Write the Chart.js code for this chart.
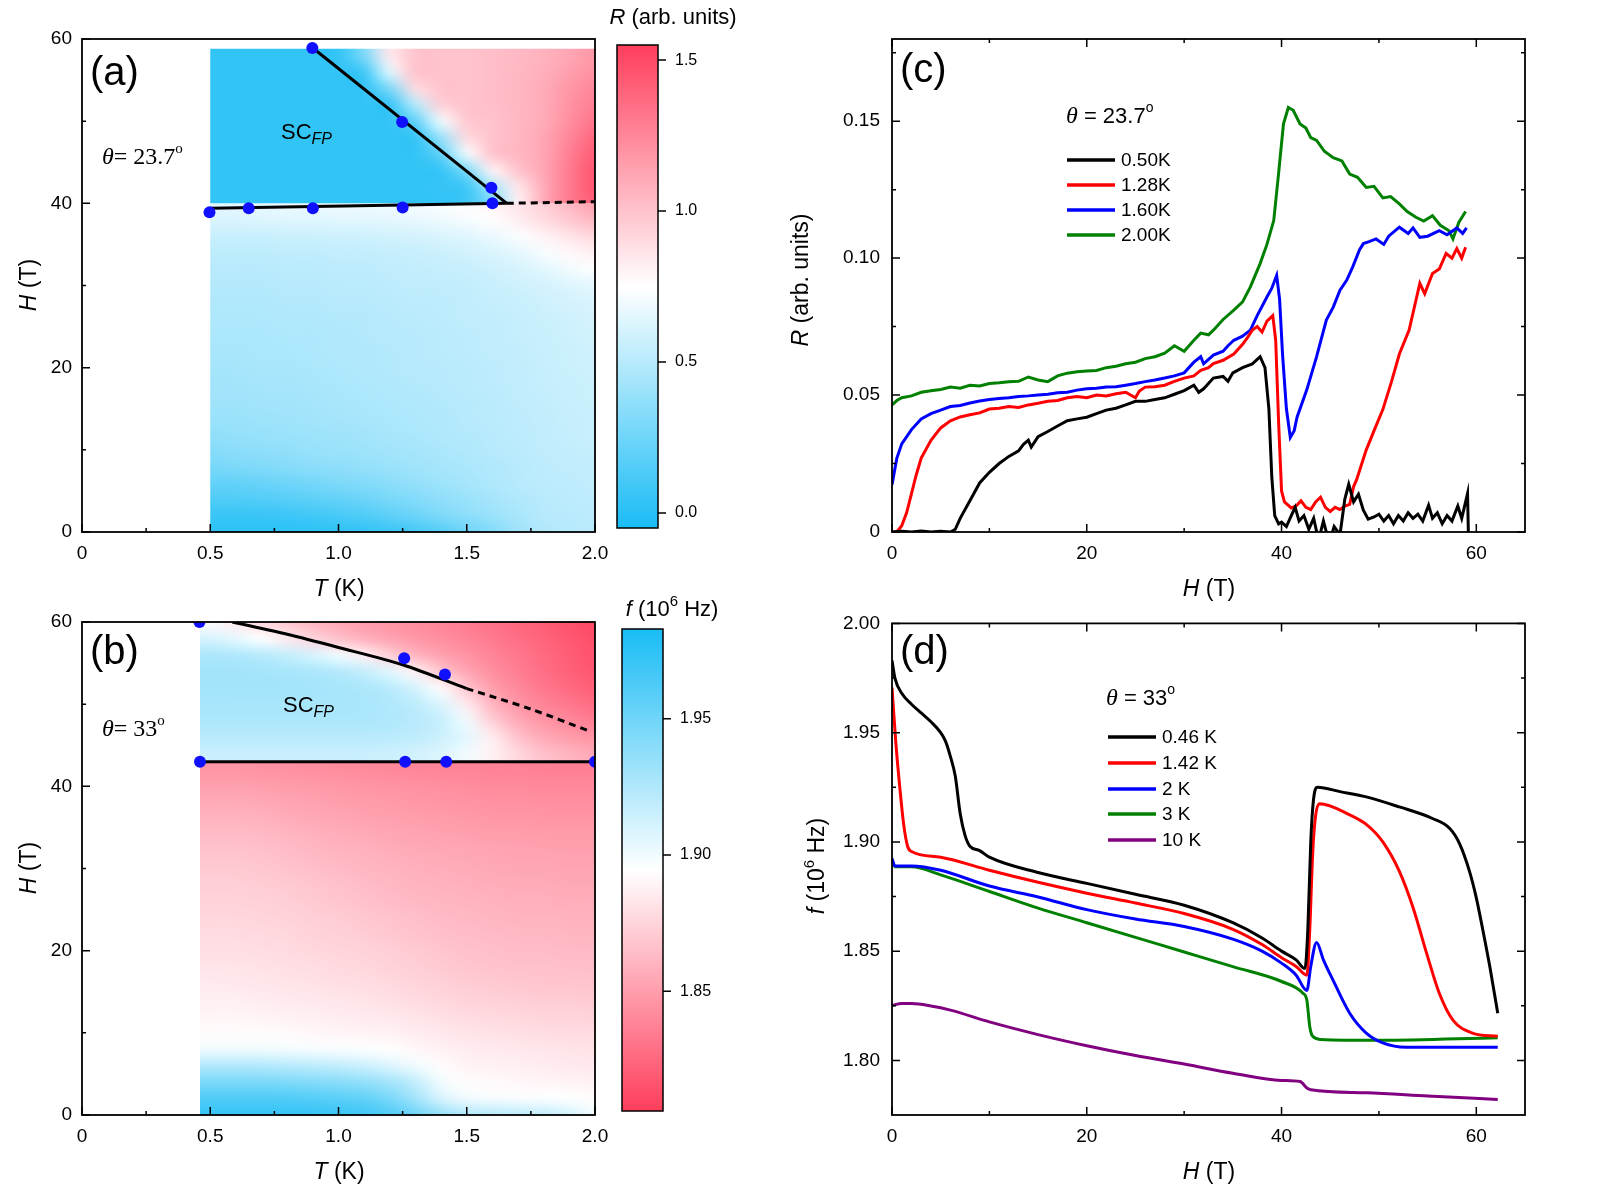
<!DOCTYPE html>
<html>
<head>
<meta charset="utf-8">
<script src="https://cdn.jsdelivr.net/npm/chart.js@4.4.0/dist/chart.umd.min.js"></script>
<style>
body { margin: 0; background: #fff; }
#wrap { position: relative; width: 1600px; height: 1200px; overflow: hidden; }
canvas { position: absolute; }
</style>
</head>
<body>
<div id="wrap">
  <canvas id="chartA" style="left:0;top:0" width="780" height="615"></canvas>
  <canvas id="chartB" style="left:0;top:600px" width="780" height="600"></canvas>
  <canvas id="chartC" style="left:780px;top:0" width="820" height="615"></canvas>
  <canvas id="chartD" style="left:780px;top:600px" width="820" height="600"></canvas>
  <canvas id="barA" style="left:590px;top:0" width="170" height="600"></canvas>
  <canvas id="barB" style="left:590px;top:580px" width="170" height="620"></canvas>
</div>
<script>
const SANS = '"Liberation Sans", Arial, Helvetica, sans-serif';
const SERIF = '"Liberation Serif", "Times New Roman", serif';

// ---------- panel (a): R(T, H) map, theta = 23.7 deg ----------
const tGrid = [0.5, 0.6, 0.7, 0.8, 0.9, 1.0, 1.1, 1.2, 1.3, 1.4, 1.5, 1.6, 1.7, 1.8, 1.9, 2.0];
const hLowA = [0, 2, 4, 6, 8, 10, 12, 14, 16, 18, 20, 22, 24, 26, 28, 30, 32, 34, 36, 38, 40];
const rLowA = [
  [0.02,0.02,0.02,0.02,0.02,0.03,0.04,0.06,0.10,0.16,0.24,0.32,0.42,0.48,0.50,0.50],
  [0.06,0.06,0.06,0.07,0.09,0.11,0.14,0.19,0.24,0.30,0.35,0.40,0.45,0.50,0.50,0.52],
  [0.14,0.14,0.15,0.17,0.19,0.21,0.24,0.28,0.32,0.36,0.40,0.44,0.48,0.50,0.52,0.52],
  [0.21,0.21,0.23,0.25,0.27,0.30,0.32,0.35,0.38,0.41,0.44,0.47,0.50,0.52,0.52,0.53],
  [0.28,0.30,0.31,0.33,0.35,0.36,0.38,0.40,0.42,0.44,0.46,0.48,0.50,0.52,0.53,0.54],
  [0.33,0.35,0.36,0.37,0.39,0.40,0.41,0.43,0.44,0.46,0.48,0.50,0.51,0.53,0.54,0.55],
  [0.37,0.38,0.39,0.40,0.41,0.42,0.43,0.45,0.46,0.48,0.49,0.50,0.52,0.53,0.55,0.56],
  [0.40,0.40,0.41,0.42,0.43,0.44,0.45,0.46,0.47,0.48,0.50,0.51,0.52,0.54,0.55,0.56],
  [0.42,0.42,0.43,0.43,0.44,0.45,0.46,0.47,0.48,0.49,0.50,0.51,0.53,0.54,0.56,0.57],
  [0.43,0.43,0.44,0.44,0.45,0.46,0.47,0.48,0.49,0.50,0.51,0.52,0.53,0.55,0.56,0.57],
  [0.44,0.44,0.45,0.45,0.46,0.47,0.48,0.49,0.50,0.50,0.51,0.52,0.54,0.55,0.57,0.58],
  [0.45,0.45,0.46,0.46,0.47,0.48,0.48,0.49,0.50,0.51,0.52,0.53,0.54,0.56,0.57,0.58],
  [0.46,0.46,0.46,0.47,0.47,0.48,0.49,0.50,0.50,0.51,0.52,0.53,0.55,0.56,0.58,0.59],
  [0.47,0.47,0.47,0.48,0.48,0.49,0.49,0.50,0.51,0.52,0.53,0.54,0.55,0.57,0.58,0.60],
  [0.48,0.48,0.48,0.49,0.49,0.50,0.50,0.51,0.52,0.52,0.53,0.55,0.56,0.58,0.60,0.62],
  [0.49,0.49,0.49,0.50,0.50,0.51,0.51,0.52,0.53,0.53,0.54,0.56,0.58,0.60,0.63,0.66],
  [0.50,0.50,0.50,0.51,0.51,0.52,0.52,0.53,0.54,0.55,0.56,0.58,0.61,0.65,0.70,0.74],
  [0.52,0.52,0.52,0.53,0.53,0.54,0.54,0.55,0.56,0.57,0.59,0.62,0.66,0.72,0.78,0.82],
  [0.56,0.56,0.56,0.57,0.57,0.58,0.58,0.59,0.60,0.62,0.64,0.68,0.73,0.80,0.86,0.92],
  [0.62,0.62,0.63,0.64,0.64,0.65,0.65,0.66,0.67,0.69,0.72,0.76,0.82,0.90,0.98,1.05],
  [0.66,0.66,0.67,0.68,0.68,0.69,0.69,0.70,0.71,0.73,0.76,0.80,0.86,0.95,1.05,1.15]
];
const hHighA = [40, 42, 44, 46, 48, 50, 52, 54, 56, 58];
const rHighA = [
  [0.04,0.04,0.04,0.04,0.04,0.04,0.04,0.04,0.04,0.04,0.08,0.30,0.80,1.10,1.30,1.42],
  [0.04,0.04,0.04,0.04,0.04,0.04,0.04,0.04,0.04,0.05,0.08,0.45,0.85,1.10,1.30,1.45],
  [0.04,0.04,0.04,0.04,0.04,0.04,0.04,0.04,0.04,0.05,0.30,0.80,1.00,1.12,1.30,1.45],
  [0.04,0.04,0.04,0.04,0.04,0.04,0.04,0.04,0.04,0.20,0.70,1.00,1.05,1.12,1.28,1.42],
  [0.04,0.04,0.04,0.04,0.04,0.04,0.04,0.04,0.05,0.40,0.90,1.00,1.05,1.12,1.25,1.38],
  [0.04,0.04,0.04,0.04,0.04,0.04,0.04,0.04,0.20,0.70,0.98,1.00,1.05,1.10,1.22,1.32],
  [0.04,0.04,0.04,0.04,0.04,0.04,0.04,0.05,0.50,0.95,1.00,1.02,1.05,1.10,1.20,1.28],
  [0.04,0.04,0.04,0.04,0.04,0.04,0.04,0.30,0.90,1.00,1.00,1.02,1.05,1.10,1.18,1.25],
  [0.04,0.04,0.04,0.04,0.04,0.04,0.08,0.65,1.00,1.00,1.00,1.02,1.05,1.08,1.15,1.20],
  [0.04,0.04,0.04,0.04,0.04,0.04,0.30,0.85,1.00,1.00,1.00,1.02,1.04,1.07,1.12,1.18]
];
const dotsA = [[0.898,58.9],[1.248,49.9],[1.596,41.9],[0.497,38.9],[0.65,39.4],[0.9,39.4],[1.25,39.5],[1.6,40.0]];
const upperA = [[0.9,58.9],[1.656,40.0]];
const lowerA = [[0.5,39.4],[1.656,40.0]];
const dashA = [[1.656,40.0],[2.0,40.2]];

// ---------- panel (b): f(T, H) map, theta = 33 deg ----------
const hLowB = [0, 2, 4, 6, 8, 10, 12, 14, 16, 18, 20, 22, 24, 26, 28, 30, 32, 34, 36, 38, 40, 42];
const fLowB = [
  [1.972,1.972,1.972,1.972,1.972,1.970,1.968,1.962,1.950,1.935,1.925,1.922,1.920,1.918,1.912,1.900],
  [1.962,1.962,1.962,1.962,1.960,1.958,1.955,1.946,1.930,1.910,1.900,1.898,1.897,1.896,1.895,1.893],
  [1.945,1.945,1.945,1.944,1.942,1.940,1.936,1.930,1.918,1.900,1.893,1.892,1.891,1.890,1.889,1.888],
  [1.925,1.925,1.924,1.922,1.920,1.918,1.914,1.908,1.900,1.893,1.889,1.888,1.887,1.886,1.885,1.884],
  [1.900,1.900,1.900,1.899,1.898,1.897,1.896,1.894,1.891,1.888,1.886,1.885,1.884,1.883,1.882,1.881],
  [1.893,1.893,1.893,1.892,1.891,1.890,1.889,1.888,1.886,1.884,1.882,1.881,1.880,1.879,1.878,1.878],
  [1.890,1.890,1.889,1.888,1.887,1.886,1.885,1.884,1.882,1.880,1.878,1.877,1.876,1.875,1.875,1.874],
  [1.887,1.887,1.886,1.885,1.884,1.883,1.882,1.880,1.878,1.876,1.874,1.873,1.872,1.871,1.871,1.870],
  [1.885,1.884,1.883,1.882,1.881,1.880,1.879,1.877,1.875,1.873,1.871,1.870,1.869,1.868,1.868,1.867],
  [1.882,1.882,1.881,1.880,1.879,1.877,1.876,1.874,1.872,1.870,1.868,1.867,1.866,1.866,1.865,1.865],
  [1.880,1.880,1.879,1.878,1.876,1.875,1.874,1.872,1.870,1.868,1.866,1.865,1.864,1.864,1.863,1.863],
  [1.878,1.878,1.877,1.876,1.874,1.873,1.871,1.869,1.867,1.865,1.864,1.863,1.862,1.862,1.861,1.861],
  [1.876,1.876,1.875,1.874,1.872,1.871,1.869,1.867,1.865,1.863,1.862,1.861,1.860,1.860,1.859,1.859],
  [1.874,1.874,1.873,1.872,1.870,1.868,1.866,1.864,1.862,1.861,1.860,1.859,1.858,1.858,1.857,1.857],
  [1.872,1.872,1.871,1.870,1.868,1.866,1.864,1.862,1.860,1.859,1.858,1.857,1.856,1.856,1.855,1.855],
  [1.870,1.870,1.869,1.867,1.865,1.863,1.861,1.860,1.858,1.857,1.856,1.855,1.854,1.854,1.853,1.853],
  [1.867,1.867,1.866,1.864,1.862,1.860,1.859,1.857,1.856,1.855,1.854,1.853,1.852,1.852,1.851,1.851],
  [1.864,1.864,1.863,1.861,1.859,1.857,1.856,1.854,1.853,1.852,1.851,1.850,1.850,1.849,1.849,1.849],
  [1.860,1.860,1.859,1.857,1.855,1.854,1.852,1.851,1.850,1.849,1.848,1.847,1.847,1.846,1.846,1.846],
  [1.856,1.856,1.855,1.853,1.852,1.850,1.849,1.848,1.847,1.846,1.845,1.844,1.844,1.843,1.843,1.843],
  [1.851,1.851,1.850,1.849,1.848,1.847,1.846,1.845,1.844,1.843,1.842,1.841,1.841,1.840,1.840,1.840],
  [1.846,1.846,1.845,1.844,1.843,1.842,1.841,1.840,1.839,1.838,1.838,1.837,1.837,1.836,1.836,1.836]
];
const hHighB = [44, 46, 48, 50, 52, 54, 56, 58, 60];
const fHighB = [
  [1.915,1.915,1.915,1.915,1.915,1.915,1.915,1.914,1.912,1.908,1.900,1.888,1.876,1.866,1.860,1.855],
  [1.922,1.922,1.922,1.922,1.922,1.922,1.922,1.921,1.919,1.914,1.905,1.886,1.866,1.855,1.849,1.845],
  [1.926,1.926,1.926,1.926,1.926,1.926,1.926,1.925,1.922,1.916,1.900,1.872,1.855,1.846,1.840,1.835],
  [1.928,1.928,1.928,1.928,1.928,1.928,1.927,1.925,1.920,1.908,1.885,1.860,1.846,1.838,1.832,1.827],
  [1.930,1.930,1.930,1.930,1.929,1.928,1.926,1.921,1.910,1.892,1.868,1.850,1.840,1.832,1.826,1.821],
  [1.930,1.930,1.929,1.928,1.926,1.923,1.917,1.906,1.888,1.868,1.853,1.843,1.835,1.828,1.822,1.817],
  [1.926,1.925,1.922,1.917,1.910,1.900,1.887,1.872,1.860,1.851,1.845,1.838,1.832,1.826,1.820,1.815],
  [1.910,1.904,1.895,1.885,1.875,1.866,1.858,1.852,1.847,1.843,1.838,1.833,1.828,1.823,1.818,1.813],
  [1.893,1.885,1.876,1.868,1.861,1.855,1.850,1.846,1.842,1.838,1.834,1.830,1.825,1.820,1.815,1.810]
];
const dotsB = [[0.458,60],[1.256,55.6],[1.415,53.6],[0.46,43],[1.26,43],[1.42,43],[2.0,43]];
const upperB = [[0.586,60],[0.8,58.5],[1.0,56.9],[1.25,54.8],[1.5,51.9]];
const dashB = [[1.5,51.9],[1.75,49.4],[1.98,46.7]];
const flatB = [[0.46,43],[2.0,43]];

// ---------- panel (c): R vs H ----------
const labelsC = ['0.50K', '1.28K', '1.60K', '2.00K'];
const r050 = [[0,0],[1,0.0003],[2,0],[3,0.0004],[4,0],[5,0.0003],[6,0],[6.5,0.001],[7,0.005],[8,0.0114],[9,0.0179],[10,0.0218],[11,0.025],[12,0.0276],[13,0.0296],[13.5,0.032],[14,0.0335],[14.3,0.031],[15,0.0348],[16,0.0367],[17,0.0387],[18,0.0406],[19,0.0413],[20,0.0419],[21,0.0432],[22,0.0445],[23,0.0452],[24,0.0464],[25,0.0477],[26,0.0477],[27,0.0484],[28,0.049],[29,0.0503],[30,0.0516],[31,0.0536],[31.5,0.051],[32,0.0523],[33,0.0562],[34,0.0568],[34.5,0.055],[35,0.0581],[36,0.060],[37,0.0614],[37.8,0.064],[38.3,0.060],[38.7,0.045],[39,0.020],[39.3,0.006],[39.7,0.003],[40,0.0036],[40.5,0.002],[41,0.006],[41.4,0.009],[41.8,0.004],[42.3,0.006],[42.8,0.001],[43.3,0.005],[43.8,-0.003],[44.3,0.004],[44.9,-0.004],[45.4,0.002],[46,-0.001],[46.5,0.012],[46.9,0.0174],[47.4,0.011],[47.9,0.0138],[48.4,0.008],[48.9,0.0047],[49.5,0.0055],[50,0.0065],[50.5,0.004],[51,0.006],[51.5,0.003],[52,0.006],[52.5,0.004],[53,0.007],[53.5,0.005],[54,0.0065],[54.5,0.004],[55.1,0.0098],[55.5,0.005],[56,0.007],[56.5,0.003],[57,0.006],[57.5,0.004],[58.1,0.0095],[58.5,0.005],[59.1,0.014],[59.2,-0.003]];
const r128 = [[0,0],[0.5,0],[1,0.0023],[1.5,0.007],[2,0.014],[2.5,0.021],[3,0.027],[4,0.0335],[5,0.038],[6,0.0406],[7,0.042],[8,0.0428],[9,0.0435],[10,0.0449],[11,0.0452],[12,0.0458],[13,0.0455],[14,0.0464],[15,0.047],[16,0.0477],[17,0.048],[18,0.049],[19,0.0495],[20,0.049],[21,0.050],[22,0.0497],[23,0.0505],[24,0.051],[25,0.049],[25.4,0.0515],[26,0.0529],[27,0.053],[28,0.0536],[29,0.055],[30,0.0562],[31,0.057],[31.7,0.059],[32.5,0.060],[33,0.0615],[34,0.0627],[35.1,0.065],[36,0.0685],[36.5,0.071],[37,0.0737],[37.5,0.075],[38,0.073],[38.5,0.077],[39.1,0.079],[39.4,0.07],[39.7,0.040],[40,0.015],[40.3,0.011],[41,0.0088],[41.5,0.0095],[42,0.0114],[42.5,0.009],[43,0.0082],[43.5,0.011],[44,0.0127],[44.5,0.009],[45,0.0075],[45.5,0.009],[46,0.0082],[46.5,0.0095],[47,0.0101],[47.4,0.0166],[47.7,0.019],[48.7,0.030],[49.5,0.037],[50.4,0.0447],[51.3,0.055],[52.1,0.065],[53.1,0.0737],[54.2,0.0908],[54.7,0.087],[55.5,0.0944],[56.2,0.096],[56.9,0.1017],[57.5,0.1],[58,0.1035],[58.5,0.1],[58.9,0.104]];
const r160 = [[0,0.0173],[0.5,0.027],[1,0.0322],[2,0.0374],[3,0.0413],[4,0.0432],[5,0.0445],[6,0.0458],[7,0.0462],[8,0.0471],[9,0.0478],[10,0.0484],[11,0.0487],[12,0.049],[13,0.0495],[14,0.0497],[15,0.050],[16,0.0503],[17,0.0508],[18,0.051],[19,0.0518],[20,0.0523],[21,0.0525],[22,0.0529],[23,0.053],[24,0.0536],[25,0.0542],[26,0.0549],[27,0.0555],[28,0.0562],[29,0.057],[30,0.0581],[31,0.062],[31.7,0.064],[32,0.0614],[33,0.0646],[34,0.066],[34.5,0.068],[35.1,0.070],[36,0.0715],[36.8,0.0737],[37.5,0.079],[38.5,0.0858],[39,0.089],[39.5,0.0937],[39.8,0.085],[40.1,0.065],[40.5,0.045],[40.9,0.0345],[41.3,0.037],[41.6,0.042],[42.6,0.052],[43.6,0.064],[44.6,0.0774],[45.3,0.082],[46,0.0883],[46.7,0.092],[47.3,0.0967],[48,0.103],[48.4,0.1053],[49,0.106],[49.7,0.107],[50.5,0.105],[51,0.108],[52.1,0.1113],[53,0.109],[53.5,0.111],[54.2,0.1076],[55,0.108],[56.2,0.110],[57,0.1085],[58,0.111],[58.6,0.109],[59,0.111]];
const r200 = [[0,0.0464],[0.5,0.048],[1,0.049],[2,0.0497],[3,0.051],[4,0.0516],[5,0.052],[6,0.0529],[7,0.0525],[8,0.0536],[9,0.0533],[10,0.0542],[11,0.0545],[12,0.0549],[13,0.055],[14,0.0566],[15,0.0555],[16,0.0549],[17,0.057],[18,0.058],[19,0.0585],[20,0.0588],[21,0.059],[22,0.060],[23,0.0605],[24,0.0614],[25,0.062],[26,0.0633],[27,0.064],[28,0.0653],[29,0.068],[30,0.066],[31,0.070],[31.7,0.0726],[32.5,0.072],[33,0.0737],[34,0.0776],[35.1,0.081],[36,0.084],[36.8,0.0895],[37.8,0.098],[38.5,0.105],[39.2,0.1137],[39.7,0.131],[40.2,0.149],[40.7,0.155],[41.2,0.154],[41.9,0.149],[42.5,0.1475],[43,0.144],[43.6,0.143],[44.4,0.139],[45.3,0.1367],[46.2,0.1355],[47,0.1307],[47.8,0.1295],[48.7,0.1258],[49.5,0.1262],[50.4,0.122],[51.2,0.1225],[52.1,0.1198],[52.9,0.117],[53.8,0.1149],[54.6,0.1135],[55.5,0.1155],[56.3,0.112],[57.2,0.110],[57.6,0.107],[58.2,0.113],[58.9,0.117]];

// ---------- panel (d): f vs H ----------
const labelsD = ['0.46 K', '1.42 K', '2 K', '3 K', '10 K'];
const f046 = [[0,1.983],[0.3,1.975],[1,1.968],[2,1.963],[3,1.959],[4,1.955],[5,1.950],[5.5,1.946],[6,1.939],[6.5,1.930],[7,1.913],[7.5,1.903],[8,1.898],[9,1.896],[10,1.893],[15,1.886],[20,1.881],[25,1.876],[30,1.871],[35,1.863],[38,1.856],[40,1.850],[41.5,1.846],[42.4,1.842],[42.7,1.860],[43.0,1.900],[43.3,1.920],[43.7,1.925],[46,1.923],[48.7,1.9206],[52.1,1.916],[55.5,1.9107],[57.3,1.906],[58.3,1.899],[59.3,1.8865],[60,1.8744],[60.7,1.859],[61.4,1.8426],[62.2,1.8216]];
const f142 = [[0,1.9706],[0.4,1.945],[0.8,1.925],[1.2,1.908],[1.6,1.898],[2,1.8956],[5,1.893],[10,1.887],[15,1.8815],[20,1.8765],[25,1.872],[30,1.8672],[35,1.860],[38,1.853],[40,1.847],[41.5,1.843],[42.6,1.839],[42.9,1.860],[43.2,1.895],[43.5,1.912],[43.9,1.9175],[47,1.9124],[48.7,1.908],[50.4,1.900],[52.1,1.8865],[53.5,1.870],[54.9,1.849],[56.2,1.8307],[57.6,1.8184],[59.6,1.8125],[62.2,1.811]];
const f2 = [[0,1.8924],[0.3,1.889],[2,1.889],[5,1.887],[10,1.8798],[15,1.8748],[20,1.869],[25,1.8647],[30,1.8613],[35,1.8555],[38,1.850],[40,1.8445],[41.5,1.839],[42.6,1.832],[43.0,1.843],[43.6,1.854],[44.3,1.846],[45.3,1.8366],[47,1.8216],[48.7,1.8125],[50.4,1.808],[52.8,1.806],[62.2,1.806]];
const f3 = [[0,1.8916],[0.3,1.8886],[2,1.8886],[5,1.8849],[10,1.8773],[15,1.8697],[20,1.863],[25,1.8563],[30,1.8496],[35,1.8429],[40,1.8361],[42.2,1.8307],[42.6,1.8275],[42.9,1.8154],[43.2,1.811],[44,1.8096],[50,1.8092],[62.2,1.8104]];
const f10 = [[0,1.8252],[1,1.826],[2,1.826],[4,1.8249],[6,1.823],[10,1.8176],[15,1.8118],[20,1.8067],[25,1.8022],[30,1.7983],[35,1.7941],[40,1.7908],[41.9,1.7903],[42.6,1.7874],[43,1.7866],[48.7,1.7852],[55,1.7837],[62.2,1.7821]];

// ticks
const ticksT = [0, 0.5, 1.0, 1.5, 2.0], minorT = [0.25, 0.75, 1.25, 1.75];
const ticksHmap = [0, 20, 40, 60], minorHmap = [10, 30, 50];
const ticksH = [0, 20, 40, 60], minorH = [10, 30, 50];
const ticksR = [0, 0.05, 0.10, 0.15], minorR = [0.025, 0.075, 0.125, 0.175];
const ticksF = [1.80, 1.85, 1.90, 1.95, 2.00], minorF = [1.825, 1.875, 1.925, 1.975];
const ticksBarA = [0.0, 0.5, 1.0, 1.5];
const ticksBarB = [1.85, 1.90, 1.95];

// colour scales
const R_LO = -0.05, R_HI = 1.55, F_LO = 1.806, F_HI = 1.983;
const BLUE = [25, 188, 245], WHITE = [255, 255, 255], RED = [255, 62, 92];
function diverge(t) {
  t = Math.max(0, Math.min(1, t));
  const [a, b, u] = t < 0.5 ? [BLUE, WHITE, t / 0.5] : [WHITE, RED, (t - 0.5) / 0.5];
  return a.map((c, k) => Math.round(c + (b[k] - c) * u));
}
const colorA = v => diverge((v - R_LO) / (R_HI - R_LO));
const colorB = v => diverge((F_HI - v) / (F_HI - F_LO));

const pts = arr => arr.map(([x, y]) => ({x, y}));
const seg = (t, size, style, dy, fam) => ({t, f: `${style || ''} ${size}px ${fam || SANS}`, dy: dy || 0});

function drawRich(ctx, it) {
  ctx.save();
  ctx.translate(it.x, it.y);
  if (it.rot) ctx.rotate(it.rot);
  ctx.textBaseline = 'middle';
  ctx.fillStyle = '#000';
  let w = 0;
  it.segs.forEach(s => { ctx.font = s.f; w += ctx.measureText(s.t).width; });
  let cx = it.align === 'center' ? -w / 2 : 0;
  it.segs.forEach(s => { ctx.font = s.f; ctx.fillText(s.t, cx, s.dy); cx += ctx.measureText(s.t).width; });
  ctx.restore();
}

// ---------- plugins ----------
function heatPlugin(spec) {
  return {
    id: 'heat',
    beforeDatasetsDraw(chart) {
      const {ctx, scales: {x, y}} = chart;
      const t = spec.t, nc = t.length, dt = t[1] - t[0];
      spec.bands.forEach(b => {
        const nr = b.h.length, dh = b.h[1] - b.h[0];
        const off = document.createElement('canvas');
        off.width = nc; off.height = nr;
        const octx = off.getContext('2d');
        const img = octx.createImageData(nc, nr);
        for (let j = 0; j < nr; j++) {
          for (let i = 0; i < nc; i++) {
            const c = spec.color(b.z[j][i]);
            const k = ((nr - 1 - j) * nc + i) * 4;
            img.data[k] = c[0]; img.data[k + 1] = c[1]; img.data[k + 2] = c[2]; img.data[k + 3] = 255;
          }
        }
        octx.putImageData(img, 0, 0);
        const x0 = x.getPixelForValue(t[0] - dt / 2), x1 = x.getPixelForValue(t[nc - 1] + dt / 2);
        const y0 = y.getPixelForValue(b.h[nr - 1] + dh / 2), y1 = y.getPixelForValue(b.h[0] - dh / 2);
        const cx0 = x.getPixelForValue(spec.tMin), cx1 = x.getPixelForValue(spec.tMax);
        const cy0 = y.getPixelForValue(b.hMax), cy1 = y.getPixelForValue(b.hMin);
        ctx.save();
        ctx.beginPath();
        ctx.rect(cx0, cy0, cx1 - cx0, cy1 - cy0);
        ctx.clip();
        ctx.imageSmoothingEnabled = true;
        ctx.imageSmoothingQuality = 'high';
        ctx.drawImage(off, x0, y0, x1 - x0, y1 - y0);
        ctx.restore();
      });
    }
  };
}

function framePlugin(f) {
  return {
    id: 'frame',
    afterDatasetsDraw(chart) {
      const {ctx, chartArea: a, scales: {x, y}} = chart;
      ctx.save();
      ctx.strokeStyle = '#000';
      ctx.lineWidth = 1.8;
      ctx.strokeRect(a.left, a.top, a.right - a.left, a.bottom - a.top);
      ctx.lineWidth = 1.5;
      ctx.beginPath();
      const xt = (vals, len) => vals.forEach(v => {
        const p = x.getPixelForValue(v);
        ctx.moveTo(p, a.bottom); ctx.lineTo(p, a.bottom - len);
        if (f.mirror) { ctx.moveTo(p, a.top); ctx.lineTo(p, a.top + len); }
      });
      const yt = (vals, len) => vals.forEach(v => {
        const p = y.getPixelForValue(v);
        ctx.moveTo(a.left, p); ctx.lineTo(a.left + len, p);
        if (f.mirror) { ctx.moveTo(a.right, p); ctx.lineTo(a.right - len, p); }
      });
      xt(f.xMajor, 8); xt(f.xMinor, 4);
      yt(f.yMajor, 8); yt(f.yMinor, 4);
      ctx.stroke();
      ctx.restore();
    }
  };
}

function textPlugin(items) {
  return { id: 'texts', afterDraw(chart) { items.forEach(it => drawRich(chart.ctx, it)); } };
}

function legendPlugin(lg) {
  return {
    id: 'lg',
    afterDraw(chart) {
      const ctx = chart.ctx;
      ctx.save();
      chart.data.datasets.forEach((ds, i) => {
        const yy = lg.ys[i];
        ctx.strokeStyle = ds.borderColor;
        ctx.lineWidth = 3.5;
        ctx.beginPath(); ctx.moveTo(lg.x0, yy); ctx.lineTo(lg.x1, yy); ctx.stroke();
        ctx.fillStyle = '#000';
        ctx.font = `19px ${SANS}`;
        ctx.textBaseline = 'middle';
        ctx.fillText(ds.label, lg.tx, yy + 1);
      });
      ctx.restore();
    }
  };
}

function barPlugin(b) {
  return {
    id: 'bar',
    beforeDraw(chart) {
      const {ctx, chartArea: a, scales: {y}} = chart;
      const g = ctx.createLinearGradient(0, y.getPixelForValue(b.lo), 0, y.getPixelForValue(b.hi));
      for (let k = 0; k <= 20; k++) {
        const c = b.color(b.lo + (b.hi - b.lo) * k / 20);
        g.addColorStop(k / 20, `rgb(${c[0]},${c[1]},${c[2]})`);
      }
      ctx.save();
      ctx.fillStyle = g;
      ctx.fillRect(a.left, a.top, a.right - a.left, a.bottom - a.top);
      ctx.strokeStyle = '#000';
      ctx.lineWidth = 1.5;
      ctx.strokeRect(a.left, a.top, a.right - a.left, a.bottom - a.top);
      ctx.beginPath();
      b.ticks.forEach(v => {
        const p = y.getPixelForValue(v);
        ctx.moveTo(a.right, p); ctx.lineTo(a.right + 8, p);
      });
      ctx.stroke();
      ctx.restore();
      drawRich(ctx, b.title);
    }
  };
}

// ---------- helpers ----------
function axis(min, max, ticks, fmt, size, pad, extra) {
  return Object.assign({
    type: 'linear', min, max,
    grid: {display: false, drawTicks: false},
    border: {display: false},
    ticks: {font: {family: SANS, size: 19}, color: '#000', padding: pad, callback: fmt, maxRotation: 0, autoSkip: false},
    afterBuildTicks: s => { s.ticks = ticks.map(v => ({value: v})); },
    afterFit: s => { if (s.isHorizontal()) s.height = size; else s.width = size; }
  }, extra || {});
}
function baseOptions(padding, scales) {
  return {
    responsive: false, animation: false, events: [],
    layout: {padding},
    scales,
    plugins: {legend: {display: false}, tooltip: {enabled: false}}
  };
}
const lineDs = (data, color, extra) => Object.assign({
  data: pts(data), borderColor: color, borderWidth: 3, pointRadius: 0,
  showLine: true, tension: 0, fill: false
}, extra || {});
const dotDs = data => ({
  data: pts(data), backgroundColor: '#1010ff', borderColor: '#1010ff',
  pointRadius: 6, borderWidth: 0, showLine: false
});
const fmtT = v => v === 0 ? '0' : v.toFixed(1);
const fmtInt = v => String(v);

const titleT = (x, y) => ({x, y, align: 'center', segs: [seg('T', 23, 'italic'), seg(' (K)', 23)]});
const titleH = (x, y) => ({x, y, align: 'center', segs: [seg('H', 23, 'italic'), seg(' (T)', 23)]});
const titleHrot = (x, y) => ({x, y, align: 'center', rot: -Math.PI / 2, segs: [seg('H', 23, 'italic'), seg(' (T)', 23)]});
const scFP = (x, y) => ({x, y, segs: [seg('SC', 22), seg('FP', 16, 'italic', 7)]});

// ---------- panel (a) ----------
new Chart(document.getElementById('chartA'), {
  type: 'scatter',
  data: {datasets: [
    dotDs(dotsA),
    lineDs(upperA, '#000'),
    lineDs(lowerA, '#000'),
    lineDs(dashA, '#000', {borderDash: [7, 5]})
  ]},
  options: baseOptions({top: 39, right: 185, left: 0, bottom: 0}, {
    x: axis(0, 2, ticksT, fmtT, 83, 10),
    y: axis(0, 60, ticksHmap, fmtInt, 82, 10)
  }),
  plugins: [
    heatPlugin({t: tGrid, tMin: 0.5, tMax: 2.0, color: colorA, bands: [
      {h: hLowA, z: rLowA, hMin: 0, hMax: 40},
      {h: hHighA, z: rHighA, hMin: 40, hMax: 58.8}
    ]}),
    framePlugin({xMajor: ticksT, xMinor: minorT, yMajor: ticksHmap, yMinor: minorHmap, mirror: false}),
    textPlugin([
      {x: 90, y: 74, segs: [seg('(a)', 40)]},
      {x: 102, y: 158, segs: [seg('θ', 24, 'italic', 0, SERIF), seg('= 23.7', 24, '', 0, SERIF), seg('o', 15, '', -9, SERIF)]},
      scFP(281, 133),
      titleT(339, 590),
      titleHrot(30, 285)
    ])
  ]
});

// ---------- panel (b) ----------
new Chart(document.getElementById('chartB'), {
  type: 'scatter',
  data: {datasets: [
    dotDs(dotsB),
    lineDs(upperB, '#000', {tension: 0.3}),
    lineDs(dashB, '#000', {borderDash: [7, 5], tension: 0.3}),
    lineDs(flatB, '#000')
  ]},
  options: baseOptions({top: 22, right: 185, left: 0, bottom: 0}, {
    x: axis(0, 2, ticksT, fmtT, 85, 10),
    y: axis(0, 60, ticksHmap, fmtInt, 82, 10)
  }),
  plugins: [
    heatPlugin({t: tGrid, tMin: 0.46, tMax: 2.0, color: colorB, bands: [
      {h: hLowB, z: fLowB, hMin: 0, hMax: 43},
      {h: hHighB, z: fHighB, hMin: 43, hMax: 60}
    ]}),
    framePlugin({xMajor: ticksT, xMinor: minorT, yMajor: ticksHmap, yMinor: minorHmap, mirror: false}),
    textPlugin([
      {x: 90, y: 53, segs: [seg('(b)', 40)]},
      {x: 102, y: 130, segs: [seg('θ', 24, 'italic', 0, SERIF), seg('= 33', 24, '', 0, SERIF), seg('o', 15, '', -9, SERIF)]},
      scFP(283, 106),
      titleT(339, 573),
      titleHrot(30, 268)
    ])
  ]
});

// ---------- panel (c) ----------
new Chart(document.getElementById('chartC'), {
  type: 'scatter',
  data: {datasets: [
    lineDs(r050, '#000000', {label: labelsC[0]}),
    lineDs(r128, '#ff0000', {label: labelsC[1]}),
    lineDs(r160, '#0000ff', {label: labelsC[2]}),
    lineDs(r200, '#008000', {label: labelsC[3]})
  ]},
  options: baseOptions({top: 39, right: 75, left: 0, bottom: 0}, {
    x: axis(0, 65, ticksH, fmtInt, 83, 10),
    y: axis(0, 0.18, ticksR, v => v === 0 ? '0' : v.toFixed(2), 112, 12)
  }),
  plugins: [
    framePlugin({xMajor: ticksH, xMinor: minorH, yMajor: ticksR, yMinor: minorR, mirror: true}),
    legendPlugin({x0: 287, x1: 335, tx: 341, ys: [160, 185, 210, 235]}),
    textPlugin([
      {x: 120, y: 71, segs: [seg('(c)', 40)]},
      {x: 286, y: 117, segs: [seg('θ', 24, 'italic', 0, SERIF), seg(' = 23.7', 22), seg('o', 14, '', -9)]},
      titleH(429, 590),
      {x: 22, y: 280, align: 'center', rot: -Math.PI / 2, segs: [seg('R', 23, 'italic'), seg(' (arb. units)', 23)]}
    ])
  ]
});

// ---------- panel (d) ----------
const smooth = {cubicInterpolationMode: 'monotone'};
new Chart(document.getElementById('chartD'), {
  type: 'scatter',
  data: {datasets: [
    lineDs(f046, '#000000', Object.assign({label: labelsD[0]}, smooth)),
    lineDs(f142, '#ff0000', Object.assign({label: labelsD[1]}, smooth)),
    lineDs(f2, '#0000ff', Object.assign({label: labelsD[2]}, smooth)),
    lineDs(f3, '#008000', Object.assign({label: labelsD[3]}, smooth)),
    lineDs(f10, '#800080', Object.assign({label: labelsD[4]}, smooth))
  ]},
  options: baseOptions({top: 21, right: 75, left: 0, bottom: 0}, {
    x: axis(0, 65, ticksH, fmtInt, 85, 10),
    y: axis(1.775, 2.0, ticksF, v => v.toFixed(2), 112, 12)
  }),
  plugins: [
    framePlugin({xMajor: ticksH, xMinor: minorH, yMajor: ticksF, yMinor: minorF, mirror: true}),
    legendPlugin({x0: 328, x1: 376, tx: 382, ys: [137, 163, 189, 214, 240]}),
    textPlugin([
      {x: 120, y: 53, segs: [seg('(d)', 40)]},
      {x: 326, y: 99, segs: [seg('θ', 24, 'italic', 0, SERIF), seg(' = 33', 22), seg('o', 14, '', -9)]},
      titleH(429, 573),
      {x: 38, y: 266, align: 'center', rot: -Math.PI / 2, segs: [seg('f', 23, 'italic'), seg(' (10', 23), seg('6', 15, '', -8), seg(' Hz)', 23)]}
    ])
  ]
});

// ---------- colour bars ----------
function colorBar(id, padding, width, lo, hi, ticks, fmt, color, title) {
  new Chart(document.getElementById(id), {
    type: 'scatter',
    data: {datasets: []},
    options: baseOptions(padding, {
      x: {type: 'linear', display: false, min: 0, max: 1},
      y: axis(lo, hi, ticks, fmt, width, 17, {position: 'right', ticks: {font: {family: SANS, size: 16}, color: '#000', padding: 17, callback: fmt, autoSkip: false}})
    }),
    plugins: [barPlugin({lo, hi, ticks, color, title})]
  });
}
colorBar('barA', {left: 27, top: 45, bottom: 72, right: 0}, 102, R_LO, R_HI, ticksBarA, v => v.toFixed(1), colorA,
  {x: 83, y: 18, align: 'center', segs: [seg('R', 22, 'italic'), seg(' (arb. units)', 22)]});
colorBar('barB', {left: 32, top: 49, bottom: 89, right: 0}, 97, F_LO, F_HI, ticksBarB, v => v.toFixed(2), colorB,
  {x: 82, y: 30, align: 'center', segs: [seg('f', 22, 'italic'), seg(' (10', 22), seg('6', 15, '', -8), seg(' Hz)', 22)]});
</script>
</body>
</html>
